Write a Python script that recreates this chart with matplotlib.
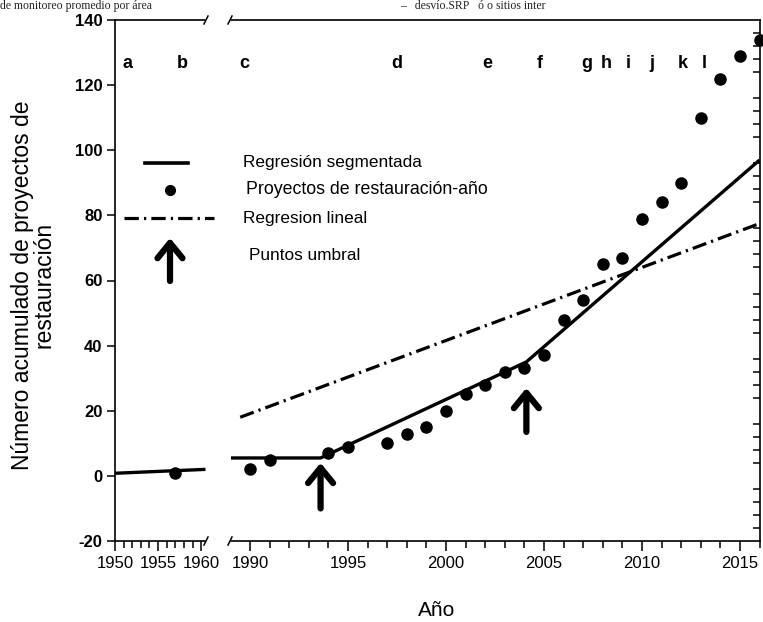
import numpy as np
import matplotlib
matplotlib.use("Agg")
import matplotlib.pyplot as plt
from matplotlib.lines import Line2D
from matplotlib.patches import FancyArrowPatch
from matplotlib.ticker import MultipleLocator, FixedLocator

plt.rcParams["font.family"] = ["Liberation Sans", "DejaVu Sans"]
plt.rcParams["axes.unicode_minus"] = False

# data
years_left = [1957]
proj_left = [1]
years = [1990, 1991, 1994, 1995, 1997, 1998, 1999, 2000, 2001, 2002, 2003, 2004,
         2005, 2006, 2007, 2008, 2009, 2010, 2011, 2012, 2013, 2014, 2015, 2016]
proj = [2, 5, 7, 9, 10, 13, 15, 20, 25, 28, 32, 33,
        37, 48, 54, 65, 67, 79, 84, 90, 110, 122, 129, 134]

seg_left_x = [1950, 1960.5]
seg_left_y = [0.8, 2.0]
seg_x = [1989, 1993.6, 2004.1, 2016]
seg_y = [5.5, 5.5, 35, 97]
lin_x = [1989.5, 2016]
lin_y = [18, 77.5]

thresh_x = [1993.6, 2004.1]
thresh_base = [-10, 13.5]
thresh_tip = [4, 27]

letters_left = ["a", "b"]
letters_left_x = [1951.5, 1957.8]
letters_right = ["c", "d", "e", "f", "g", "h", "i", "j", "k", "l"]
letters_right_x = [1989.7, 1997.5, 2002.1, 2004.8, 2007.2, 2008.2, 2009.3, 2010.5, 2012.1, 2013.2]

W, H = 763, 622
fig = plt.figure(figsize=(W / 100, H / 100), dpi=100)

def fx(px):
    return px / W

def fy(py):
    return 1 - py / H

bottom = fy(541)
height = fy(20) - bottom
ax1 = fig.add_axes([fx(115), bottom, fx(205.5) - fx(115), height])
ax2 = fig.add_axes([fx(231), bottom, fx(760) - fx(231), height])

for ax in (ax1, ax2):
    ax.set_ylim(-20, 140)
    for s in ax.spines.values():
        s.set_linewidth(1.2)

ax1.set_xlim(1950, 1960.5)
ax2.set_xlim(1989.03, 2016.02)

ax1.spines["right"].set_visible(False)
ax2.spines["left"].set_visible(False)

# left panel
ax1.plot(seg_left_x, seg_left_y, color="black", lw=2.4, solid_capstyle="butt")
ax1.plot(years_left, proj_left, "o", color="black", ms=8)
ax1.xaxis.set_major_locator(FixedLocator([1950, 1955, 1960]))
ax1.xaxis.set_minor_locator(MultipleLocator(1))
ax1.yaxis.set_major_locator(MultipleLocator(20))
ax1.tick_params(axis="x", which="major", direction="out", length=7, width=1.1, labelsize=12, pad=4)
ax1.tick_params(axis="x", which="minor", direction="out", length=5, width=1.1)
ax1.tick_params(axis="y", which="major", direction="out", length=6, width=1.1, labelsize=12, pad=3)
for lab in ax1.get_yticklabels():
    lab.set_fontweight("bold")

# right panel
ax2.plot(lin_x, lin_y, color="black", lw=2.3, dashes=[4.5, 1.6, 0.7, 1.6])
ax2.plot(seg_x, seg_y, color="black", lw=2.4, solid_capstyle="butt")
ax2.plot(years, proj, "o", color="black", ms=8, clip_on=False, zorder=5)
ax2.xaxis.set_major_locator(MultipleLocator(5))
ax2.xaxis.set_minor_locator(MultipleLocator(1))
ax2.tick_params(axis="x", which="major", direction="out", length=7, width=1.1, labelsize=12, pad=4)
ax2.tick_params(axis="x", which="minor", direction="out", length=5, width=1.1)
ax2.yaxis.set_major_locator(FixedLocator([]))
ax2.yaxis.set_minor_locator(FixedLocator([v for v in range(-16, 140, 4) if v % 20 != 0]))
ax2.yaxis.tick_right()
ax2.tick_params(axis="y", which="minor", direction="in", length=5, width=1.1, left=False, right=True)

for x0, y0, y1 in zip(thresh_x, thresh_base, thresh_tip):
    ax2.annotate("", xy=(x0, y1), xytext=(x0, y0),
                 arrowprops=dict(arrowstyle="->, head_length=0.55, head_width=0.45",
                                 lw=4.5, color="black", mutation_scale=20,
                                 shrinkA=0, shrinkB=0))

for t, x in zip(letters_left, letters_left_x):
    ax1.text(x, 126.5, t, ha="center", va="center", fontsize=13, fontweight="bold")
for t, x in zip(letters_right, letters_right_x):
    ax2.text(x, 126.5, t, ha="center", va="center", fontsize=13, fontweight="bold")

# axis break marks
for xp in (206, 230):
    for yp in (20, 541):
        fig.add_artist(Line2D([fx(xp - 2), fx(xp + 2)], [fy(yp + 4), fy(yp - 4)],
                              color="black", lw=1.1))

# legend
fig.add_artist(Line2D([fx(145), fx(188)], [fy(163), fy(163)], color="black", lw=2.6))
fig.add_artist(Line2D([fx(170)], [fy(190)], marker="o", color="black", ms=7))
fig.add_artist(Line2D([fx(124), fx(214)], [fy(218), fy(218)], color="black", lw=2.3,
                      dashes=[4.5, 1.6, 0.7, 1.6]))
fig.add_artist(FancyArrowPatch(
    (fx(170), fy(281)), (fx(170), fy(238)), transform=fig.transFigure,
    arrowstyle="->, head_length=0.55, head_width=0.45", lw=4.5, color="black",
    mutation_scale=20, shrinkA=0, shrinkB=0))
fig.text(fx(243), fy(163), "Regresión segmentada", fontsize=12.4, va="center")
fig.text(fx(246), fy(189), "Proyectos de restauración-año", fontsize=12.8, va="center")
fig.text(fx(243), fy(219), "Regresion lineal", fontsize=12.4, va="center")
fig.text(fx(249), fy(256), "Puntos umbral", fontsize=12.4, va="center")

fig.text(fx(437), fy(611), "Año", fontsize=15, ha="center", va="center")
fig.text(fx(33), fy(285), "Número acumulado de proyectos de\nrestauración", fontsize=16.5,
         ha="center", va="center", rotation=90, linespacing=0.9)

# text from the page above the chart
fig.text(0.0, 1.0, "de monitoreo promedio por área", family="Liberation Serif",
         fontsize=8.5, va="top", color="#222222")
fig.text(fx(400), 1.0, "–   desvío.SRP   ó o sitios inter", family="Liberation Serif",
         fontsize=8.5, va="top", color="#222222")

fig.savefig("out.png", dpi=100)
